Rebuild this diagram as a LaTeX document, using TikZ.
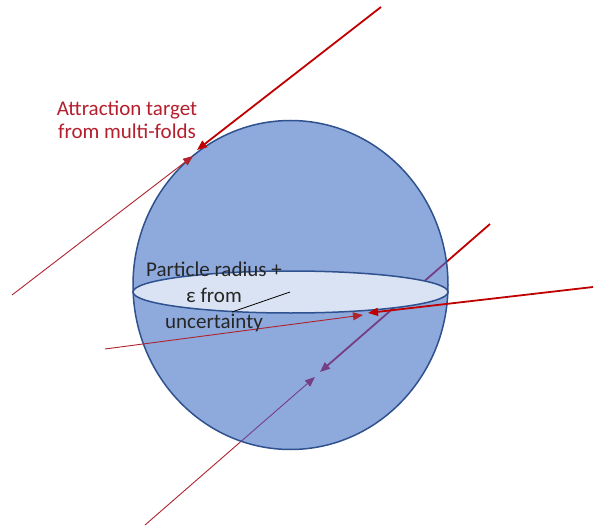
\documentclass[tikz,border=0pt]{standalone}
\usepackage{fontspec}
\setmainfont{Carlito}
\usetikzlibrary{arrows.meta}
\definecolor{sph}{RGB}{142,169,219}
\definecolor{sphline}{RGB}{47,82,143}
\definecolor{eqfill}{RGB}{218,227,243}
\definecolor{ray}{RGB}{192,0,0}
\definecolor{raythin}{RGB}{175,35,45}
\definecolor{inray}{RGB}{118,62,132}
\definecolor{lbl}{RGB}{180,30,45}
\begin{document}
\begin{tikzpicture}[x=1pt,y=-1pt,
  thickray/.style={line width=1.8pt,-{Triangle[length=10pt,width=8pt]}},
  thinray/.style={line width=0.9pt,-{Triangle[length=10pt,width=8pt]}},
  lbltext/.style={inner sep=0pt,align=center,font=\fontsize{21}{23}\selectfont},
]
\useasboundingbox (0,0) rectangle (595,527);
% named points
\coordinate (c) at (290.5,285);
\coordinate (a1) at (381,7);   \coordinate (a1t) at (197,150);
\coordinate (a2) at (12,295);  \coordinate (a2t) at (193,156);
\coordinate (b1) at (593,287); \coordinate (b1t) at (368,313);
\coordinate (b2) at (105,349); \coordinate (b2t) at (363,315);
\coordinate (p1) at (490,224); \coordinate (p1t) at (320,372);
\coordinate (p2) at (145,525); \coordinate (p2t) at (315,377);
\coordinate (rc) at (290,292); \coordinate (re) at (232,312);

% ray passing behind the sphere
\draw[thickray,ray] (p1) -- (p1t);
\draw[thinray,raythin] (p2) -- (p2t);
% sphere
\fill[sph] (c) ellipse [x radius=157.5, y radius=164.5];
\begin{scope}
  \clip (c) ellipse [x radius=157.5, y radius=164.5];
  \draw[thickray,inray] (p1) -- (p1t);
  \draw[thinray,inray] (p2) -- (p2t);
\end{scope}
\draw[sphline,line width=1.5pt] (c) ellipse [x radius=157.5, y radius=164.5];
% equator
\draw[sphline,line width=1.5pt,fill=eqfill] (290.5,292) ellipse [x radius=157.5, y radius=21];
\draw[black,line width=0.8pt] (rc) -- (re);
% rays in front
\draw[thickray,ray] (a1) -- (a1t);
\draw[thinray,raythin] (a2) -- (a2t);
\draw[thickray,ray] (b1) -- (b1t);
\draw[thinray,raythin] (b2) -- (b2t);
% labels
\node[lbltext,text=lbl] (att) at (127,120) {Attraction target\\from multi-folds};
\node[lbltext,text=black!85,font=\fontsize{21}{26}\selectfont] (prt) at (214,297) {Particle radius +\\ε from\\uncertainty};
\end{tikzpicture}
\end{document}
